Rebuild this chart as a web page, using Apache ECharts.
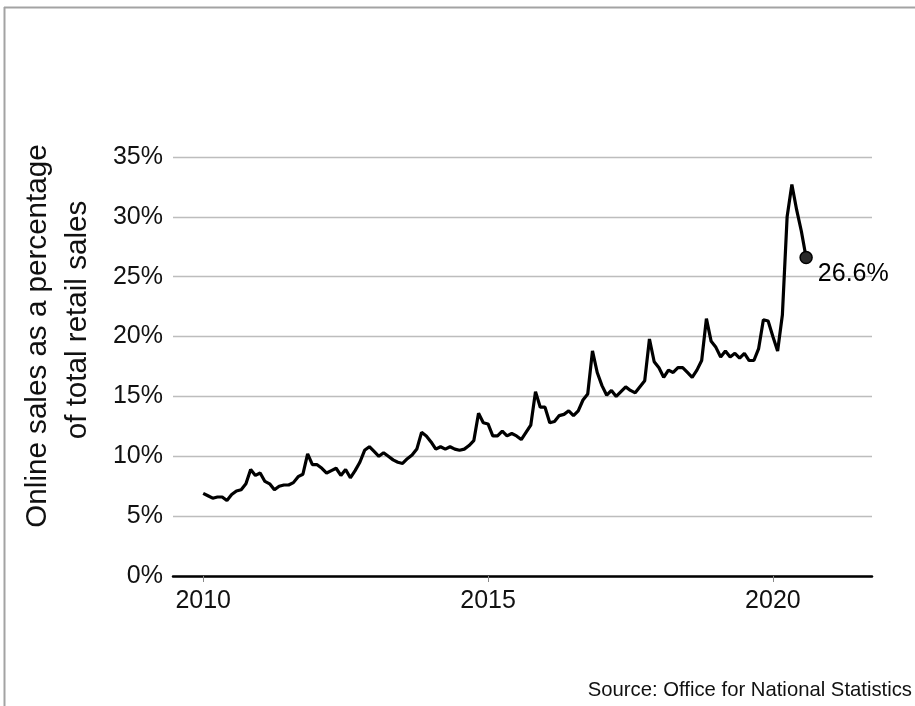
<!DOCTYPE html>
<html>
<head>
<meta charset="utf-8">
<script src="https://cdn.jsdelivr.net/npm/echarts@6/dist/echarts.min.js"></script>
<style>
  html, body { margin: 0; padding: 0; background: #fff; }
  #chart { width: 915px; height: 706px; }
</style>
</head>
<body>
<div id="chart"></div>
<script>
// monthly share of retail sales made online, Jan 2010 .. Aug 2020 (%)
var startYear = 2010
var onlineShare = [
  6.9, 6.7, 6.5, 6.6, 6.6, 6.3, 6.8, 7.1, 7.2, 7.7,
  8.9, 8.4, 8.6, 7.9, 7.7, 7.2, 7.5, 7.6, 7.6, 7.8,
  8.3, 8.5, 10.2, 9.3, 9.3, 9.0, 8.6, 8.8, 9.0, 8.4,
  8.9, 8.2, 8.8, 9.5, 10.5, 10.8, 10.4, 10.0, 10.3, 10.0,
  9.7, 9.5, 9.4, 9.8, 10.1, 10.6, 12.0, 11.7, 11.2, 10.6,
  10.8, 10.6, 10.8, 10.6, 10.5, 10.6, 10.9, 11.3, 13.6, 12.8,
  12.7, 11.7, 11.7, 12.1, 11.7, 11.9, 11.7, 11.4, 12.0, 12.6,
  15.4, 14.1, 14.1, 12.8, 12.9, 13.4, 13.5, 13.8, 13.4, 13.8,
  14.7, 15.2, 18.8, 17.0, 15.9, 15.1, 15.5, 15.0, 15.4, 15.8,
  15.5, 15.3, 15.8, 16.3, 19.8, 17.9, 17.4, 16.6, 17.2, 17.0,
  17.4, 17.4, 17.0, 16.6, 17.2, 18.0, 21.5, 19.6, 19.1, 18.3,
  18.8, 18.3, 18.6, 18.2, 18.6, 18.0, 18.0, 19.0, 21.4, 21.3,
  20.0, 18.8, 21.8, 30.0, 32.7, 30.6, 28.8, 26.6
]
var yearTicks = [2010, 2015, 2020]
var lastLabel = '26.6%'

// month index -> decimal year
var points = onlineShare.map(function (v, i) {
  return [startYear + i / 12, v]
})
var lastPoint = points[points.length - 1]

var font = "'Liberation Sans', Arial, sans-serif"

var myChart = echarts.init(document.getElementById('chart'))
var option = {
  animation: false,
  grid: {
    left: 173,
    right: 43,
    top: 157,
    bottom: 130,
    containLabel: false
  },
  xAxis: {
    type: 'value',
    min: 2009.47,
    max: 2021.74,
    axisLine: { show: true, onZero: false, lineStyle: { color: '#000', width: 2.5 } },
    axisTick: {
      show: true,
      customValues: yearTicks,
      length: 6,
      lineStyle: { color: '#888', width: 1 }
    },
    axisLabel: {
      customValues: yearTicks,
      color: '#111',
      fontSize: 25,
      fontFamily: font,
      margin: 13,
      formatter: function (v) { return String(Math.round(v)) }
    },
    splitLine: { show: false }
  },
  yAxis: {
    type: 'value',
    min: 0,
    max: 35,
    interval: 5,
    axisLine: { show: false },
    axisTick: { show: false },
    axisLabel: {
      color: '#111',
      fontSize: 25,
      fontFamily: font,
      margin: 10,
      formatter: '{value}%'
    },
    splitLine: { lineStyle: { color: '#bdbdbd', width: 1.3 } }
  },
  graphic: [
    {
      type: 'line',
      shape: { x1: 4, y1: 7.5, x2: 915, y2: 7.5 },
      style: { stroke: '#a3a3a3', lineWidth: 2 }
    },
    {
      type: 'line',
      shape: { x1: 4.5, y1: 7, x2: 4.5, y2: 706 },
      style: { stroke: '#a3a3a3', lineWidth: 2 }
    },
    // y axis title, two lines
    {
      type: 'text',
      x: 38,
      y: 336,
      rotation: Math.PI / 2,
      style: {
        text: 'Online sales as a percentage',
        font: '29.6px ' + font,
        fill: '#111',
        align: 'center',
        verticalAlign: 'middle'
      }
    },
    {
      type: 'text',
      x: 78,
      y: 320,
      rotation: Math.PI / 2,
      style: {
        text: 'of total retail sales',
        font: '29.6px ' + font,
        fill: '#111',
        align: 'center',
        verticalAlign: 'middle'
      }
    },
    {
      type: 'text',
      right: 3,
      top: 680,
      style: {
        text: 'Source: Office for National Statistics',
        font: '20.3px ' + font,
        fill: '#111'
      }
    }
  ],
  series: [
    {
      type: 'line',
      data: points,
      showSymbol: false,
      lineStyle: { color: '#000', width: 3.2 },
      z: 3
    },
    {
      type: 'scatter',
      data: [lastPoint],
      symbol: 'circle',
      symbolSize: 12,
      itemStyle: { color: '#2a2a2a', borderColor: '#000', borderWidth: 1.5, opacity: 1 },
      label: {
        show: true,
        position: 'right',
        distance: 5,
        offset: [0, 17],
        formatter: lastLabel,
        color: '#000',
        opacity: 1,
        fontSize: 25,
        fontFamily: font
      },
      z: 4
    }
  ]
}
myChart.setOption(option)
</script>
</body>
</html>
